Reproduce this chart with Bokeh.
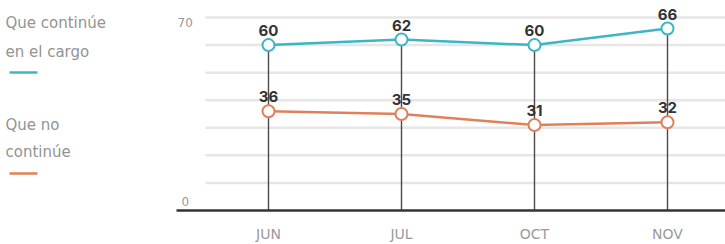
from bokeh.plotting import figure
from bokeh.models import Range1d, ColumnDataSource
from bokeh.core.properties import value
from bokeh.embed import file_html
from bokeh.resources import INLINE

# ---- data ----
months = ["JUN", "JUL", "OCT", "NOV"]
que_continue = [60, 62, 60, 66]
que_no_continue = [36, 35, 31, 32]
y_tick_values = [70, 0]
y_tick_labels = ["70", "0"]
grid_values = [10, 20, 30, 40, 50, 60, 70]
legend_labels = [["Que continúe", "en el cargo"], ["Que no", "continúe"]]

CYAN = "#3cb6c6"
ORANGE = "#e0805a"

W, H = 725, 244
# layout helpers (canvas pixel -> data)
X0, DXP = 268.0, 133.0
Y0, PPU = 210.0, 2.757


def dx(px):
    return (px - X0) / DXP


def dy(py):
    return (Y0 - py) / PPU


p = figure(width=W, height=H, output_backend="svg", toolbar_location=None,
           x_range=Range1d(dx(0), dx(W)), y_range=Range1d(dy(H), dy(0)),
           min_border=0, outline_line_color=None)
p.axis.visible = False
p.grid.visible = False
p.background_fill_color = "white"
p.border_fill_color = "white"

xs = list(range(len(months)))

# gridlines
p.segment(x0=[dx(205)] * len(grid_values), x1=[dx(W)] * len(grid_values),
          y0=grid_values, y1=grid_values, line_color="#e6e6e6", line_width=2.5)
# y labels
p.text(x=[dx(177), dx(181)], y=y_tick_values, text=y_tick_labels, text_font=value("DejaVu Sans"),
       text_font_size="12px", text_color="#999999", text_align="left",
       text_baseline="bottom", y_offset=[9, -5])

# drop lines
p.segment(x0=xs, x1=xs, y0=[0] * len(xs), y1=que_continue, line_color="#4a4a4a", line_width=1.4)

# axis baseline
p.segment(x0=[dx(176)], x1=[dx(W)], y0=[0], y1=[0], line_color="#333333", line_width=2.5)

for vals, col in ((que_continue, CYAN), (que_no_continue, ORANGE)):
    src = ColumnDataSource(dict(x=xs, y=vals, t=[str(v) for v in vals]))
    p.line("x", "y", source=src, line_color=col, line_width=2.5)
    p.scatter("x", "y", source=src, size=12, fill_color="white", line_color=col, line_width=2)
    p.text("x", "y", text="t", source=src, text_font=value("Inter"), text_font_style="bold",
           text_font_size="15px", text_color="#333333", text_align="center",
           text_baseline="bottom", y_offset=-9)

# x labels
p.text(x=xs, y=[dy(233)] * len(xs), text=months, text_font=value("DejaVu Sans"),
       text_font_size="14px", text_color="#9a9a9a", text_align="center", text_baseline="middle")

# legend
leg_y = [[22, 51], [124, 151]]
dash_y = [72, 173]
for labels, ys, d, col in zip(legend_labels, leg_y, dash_y, (CYAN, ORANGE)):
    p.text(x=[dx(5)] * 2, y=[dy(v) for v in ys], text=labels, text_font=value("DejaVu Sans"),
           text_font_size="15px", text_color="#939393", text_align="left", text_baseline="middle")
    p.segment(x0=[dx(9)], x1=[dx(37)], y0=[dy(d)], y1=[dy(d)], line_color=col, line_width=2.5)

open("out.html", "w").write(file_html(p, INLINE))
